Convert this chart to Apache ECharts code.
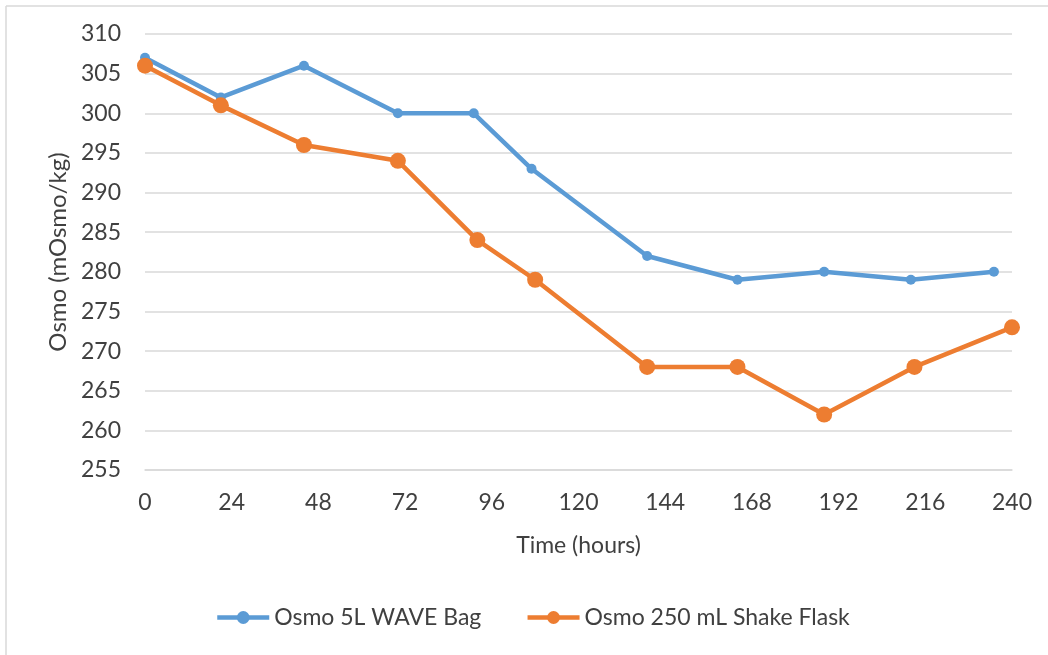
<!DOCTYPE html>
<html>
<head>
<meta charset="utf-8">
<script src="https://cdn.jsdelivr.net/npm/echarts@6/dist/echarts.min.js"></script>
<style>
html,body{margin:0;padding:0;background:#fff;}
#chart{width:1048px;height:655px;}
</style>
</head>
<body>
<div id="chart"></div>
<script>
const seriesNames = ['Osmo 5L WAVE Bag', 'Osmo 250 mL Shake Flask'];
const waveHours = [0, 21, 44, 70, 91, 107, 139, 164, 188, 212, 235];
const waveOsmo  = [307, 302, 306, 300, 300, 293, 282, 279, 280, 279, 280];
const flaskHours = [0, 21, 44, 70, 92, 108, 139, 164, 188, 213, 240];
const flaskOsmo  = [306, 301, 296, 294, 284, 279, 268, 268, 262, 268, 273];
const xTicks = [0, 24, 48, 72, 96, 120, 144, 168, 192, 216, 240];
const yTicks = [255, 260, 265, 270, 275, 280, 285, 290, 295, 300, 305, 310];
const xName = 'Time (hours)';
const yName = 'Osmo (mOsmo/kg)';

const FONT = 'Lato, "Open Sans", sans-serif';
const TXT = '#404040';

const chart = echarts.init(document.getElementById('chart'), null, {renderer: 'canvas'});
chart.setOption({
  animation: false,
  backgroundColor: '#fff',
  graphic: [
    {type: 'line', shape: {x1: 6, y1: 6, x2: 1048, y2: 6}, style: {stroke: '#d9d9d9', lineWidth: 1.5}},
    {type: 'line', shape: {x1: 6, y1: 6, x2: 6, y2: 655}, style: {stroke: '#d9d9d9', lineWidth: 1.5}}
  ],
  grid: {left: 145, right: 36, top: 34, bottom: 185, containLabel: false},
  legend: {
    top: 601,
    left: 210,
    itemWidth: 52,
    itemHeight: 16,
    itemGap: 44,
    lineStyle: {width: 4.5},
    textStyle: {fontFamily: FONT, fontSize: 23, color: TXT},
    data: seriesNames
  },
  xAxis: {
    type: 'value',
    min: xTicks[0],
    max: xTicks[xTicks.length - 1],
    interval: xTicks[1] - xTicks[0],
    name: xName,
    nameLocation: 'middle',
    nameGap: 64,
    nameTextStyle: {fontFamily: FONT, fontSize: 23, color: TXT},
    axisLine: {show: true, lineStyle: {color: '#d9d9d9', width: 1.5}},
    axisTick: {show: false},
    axisLabel: {fontFamily: FONT, fontSize: 23, color: TXT, margin: 21},
    splitLine: {show: false}
  },
  yAxis: {
    type: 'value',
    min: yTicks[0],
    max: yTicks[yTicks.length - 1],
    interval: yTicks[1] - yTicks[0],
    name: yName,
    nameLocation: 'middle',
    nameGap: 73,
    nameRotate: 90,
    nameTextStyle: {fontFamily: FONT, fontSize: 24, color: TXT},
    axisLine: {show: false},
    axisTick: {show: false},
    axisLabel: {fontFamily: FONT, fontSize: 23, color: TXT, margin: 24},
    splitLine: {show: true, lineStyle: {color: '#d9d9d9', width: 1.5}}
  },
  series: [
    {
      name: seriesNames[0],
      type: 'line',
      data: waveHours.map((h, i) => [h, waveOsmo[i]]),
      symbol: 'circle',
      symbolSize: 10,
      lineStyle: {color: '#5b9bd5', width: 4.5},
      itemStyle: {color: '#5b9bd5'},
      z: 2
    },
    {
      name: seriesNames[1],
      type: 'line',
      data: flaskHours.map((h, i) => [h, flaskOsmo[i]]),
      symbol: 'circle',
      symbolSize: 16,
      lineStyle: {color: '#ed7d31', width: 4.5},
      itemStyle: {color: '#ed7d31'},
      z: 3
    }
  ]
});
</script>
</body>
</html>
